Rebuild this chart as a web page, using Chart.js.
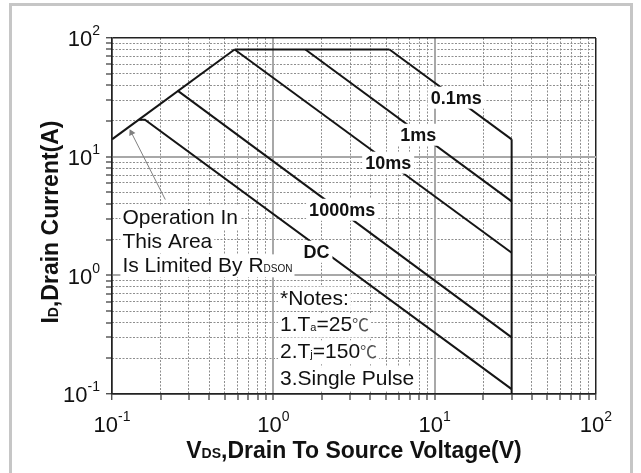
<!DOCTYPE html>
<html>
<head>
<meta charset="utf-8">
<script src="https://cdn.jsdelivr.net/npm/chart.js@4.4.1/dist/chart.umd.min.js"></script>
<style>
html,body{margin:0;padding:0;background:#fff;}
#wrap{position:relative;width:641px;height:473px;overflow:hidden;background:#fff;}
#c{position:absolute;left:0;top:0;}
#frame{position:absolute;left:9px;top:3px;width:624px;height:530px;box-sizing:border-box;border:3px solid #c6c6c6;pointer-events:none;}
</style>
</head>
<body>
<div id="wrap"><canvas id="c" width="641" height="473"></canvas><div id="frame"></div></div>
<script>
// ---------- data ----------
const decades = [0.1, 1, 10, 100];
const tickExponents = ['-1', '0', '1', '2'];

// R_DS(on) limit line
const rdsonV = [0.1, 0.575];
const rdsonI = [14, 80];
// package current limit
const limitV = [0.575, 5.25];
const limitI = [80, 80];
// pulse lines
const pulse01V = [5.25, 30];   const pulse01I = [80, 14];
const pulse1V = [1.58, 30];    const pulse1I = [80, 4.2];
const pulse10V = [0.575, 30];  const pulse10I = [80, 1.55];
const pulse1000V = [0.255, 30]; const pulse1000I = [36, 0.3];
const dcV = [0.147, 0.16, 30]; const dcI = [20.5, 20.5, 0.11];
// V_DS max limit
const vmaxV = [30, 30];        const vmaxI = [14, 0.1];
// annotation arrow (tail -> tip)
const arrowV = [0.214, 0.132]; const arrowI = [4.35, 15.9];

const curveLabels = ['0.1ms', '1ms', '10ms', '1000ms', 'DC'];
const curveLabelV = [13.6, 7.9, 5.15, 2.67, 1.85];
const curveLabelI = [31.4, 15.3, 8.9, 3.57, 1.58];

// ---------- helpers ----------
const FONT = "'Liberation Sans', Arial, Helvetica, sans-serif";
const CJK = "'Noto Sans CJK SC', 'DejaVu Sans', sans-serif";
const pts = (vs, is) => vs.map((v, k) => ({x: v, y: is[k]}));

const gridTicks = [];
decades.forEach((d, i) => {
  for (let m = 1; m <= 9; m++) {
    if (i === decades.length - 1 && m > 1) break;
    gridTicks.push(+(d * m).toPrecision(3));
  }
});
const isDecade = v => decades.some(d => Math.abs(v - d) < d * 1e-6);
const isEdge = v => Math.abs(v - decades[0]) < 1e-9 || Math.abs(v - decades[decades.length - 1]) < 1e-6;
const setTicks = s => { s.ticks = gridTicks.map(v => ({value: v, major: isDecade(v)})); };

function fontStr(s) { return (s.bold ? 'bold ' : '') + s.size + 'px ' + (s.family || FONT); }
function drawRich(ctx, x, y, segs, align, bg) {
  let w = 0;
  segs.forEach(s => { ctx.font = fontStr(s); s._w = ctx.measureText(s.t).width; w += s._w; });
  let cx = align === 'center' ? x - w / 2 : align === 'right' ? x - w : x;
  if (bg) {
    ctx.fillStyle = '#fff';
    ctx.fillRect(cx - 2, y - bg[0], w + 4, bg[0] + bg[1]);
  }
  ctx.textAlign = 'left';
  ctx.textBaseline = 'alphabetic';
  segs.forEach(s => {
    ctx.font = fontStr(s);
    ctx.fillStyle = s.color || '#111';
    ctx.fillText(s.t, cx, y + (s.dy || 0));
    cx += s._w;
  });
  return w;
}
const seg = (t, o) => Object.assign({t: t, size: 21, bold: false}, o || {});

const rdsonNote = [
  [seg('Operation In')],
  [seg('This Area')],
  [seg('Is Limited By R'), seg('DSON', {size: 10})]
];
const notes = [
  [seg('*Notes:')],
  [seg('1.T'), seg('a', {size: 11}), seg('=25'), seg('\u2103', {family: CJK, size: 17, color: '#555'})],
  [seg('2.T'), seg('j', {size: 11}), seg('=150'), seg('\u2103', {family: CJK, size: 17, color: '#555'})],
  [seg('3.Single Pulse')]
];

const textPlugin = {
  id: 'textPlugin',
  afterDatasetsDraw(chart) {
    const ctx = chart.ctx, xs = chart.scales.x, ys = chart.scales.y;
    ctx.save();
    // curve labels with white background
    curveLabels.forEach((t, i) => {
      const px = xs.getPixelForValue(curveLabelV[i]);
      const py = ys.getPixelForValue(curveLabelI[i]);
      ctx.font = 'bold 18px ' + FONT;
      const w = ctx.measureText(t).width;
      ctx.fillStyle = '#fff';
      ctx.fillRect(px - w / 2 - 3, py - 11, w + 6, 22);
      ctx.fillStyle = '#111';
      ctx.textAlign = 'center';
      ctx.textBaseline = 'alphabetic';
      ctx.fillText(t, px, py + 6.5);
    });
    // R_DS(on) annotation
    let ax = xs.getPixelForValue(0.116), ay = ys.getPixelForValue(2.71);
    rdsonNote.forEach((line, k) => drawRich(ctx, ax, ay + k * 24.2, line, 'left', [18, 5]));
    // notes
    let nx = xs.getPixelForValue(1.10), ny = ys.getPixelForValue(0.566);
    notes.forEach((line, k) => drawRich(ctx, nx, ny + k * 26.8, line, 'left', [18, 6]));
    ctx.restore();
  },
  afterDraw(chart) {
    const ctx = chart.ctx, xs = chart.scales.x, ys = chart.scales.y, ca = chart.chartArea;
    ctx.save();
    decades.forEach((d, i) => {
      const lab = [seg('10', {size: 22}), seg(tickExponents[i], {size: 14, dy: -11})];
      drawRich(ctx, xs.getPixelForValue(d), ca.bottom + 37.5, lab, 'center');
      const lab2 = [seg('10', {size: 22}), seg(tickExponents[i], {size: 14, dy: -11})];
      drawRich(ctx, ca.left - 12, ys.getPixelForValue(d) + 8.3, lab2, 'right');
    });
    // x title
    drawRich(ctx, (ca.left + ca.right) / 2, 458,
      [seg('V', {size: 23, bold: true}), seg('DS', {size: 14, bold: true}), seg(',Drain To Source Voltage(V)', {size: 23, bold: true})],
      'center');
    // y title
    ctx.translate(58, 222);
    ctx.rotate(-Math.PI / 2);
    drawRich(ctx, 0, 0,
      [seg('I', {size: 23, bold: true}), seg('D', {size: 14, bold: true}), seg(',Drain Current(A)', {size: 23, bold: true})],
      'center');
    ctx.restore();
  }
};

const lineDs = (v, i) => ({
  data: pts(v, i), borderColor: '#151515', borderWidth: 2, pointRadius: 0,
  showLine: true, tension: 0, fill: false, xAxisID: 'x', yAxisID: 'y'
});

const datasets = [
  lineDs(rdsonV, rdsonI),
  lineDs(limitV, limitI),
  lineDs(pulse01V, pulse01I),
  lineDs(pulse1V, pulse1I),
  lineDs(pulse10V, pulse10I),
  lineDs(pulse1000V, pulse1000I),
  lineDs(dcV, dcI),
  lineDs(vmaxV, vmaxI),
  {
    data: pts(arrowV, arrowI), borderColor: '#808080', borderWidth: 1, showLine: true,
    pointRadius: [0, 4], pointStyle: 'triangle', pointRotation: -27,
    pointBackgroundColor: '#808080', pointBorderColor: '#808080', pointBorderWidth: 0,
    xAxisID: 'x', yAxisID: 'y'
  }
];

const mainGrid = {
  color: c => isEdge(c.tick.value) ? '#222' : (isDecade(c.tick.value) ? '#a8a8a8' : 'rgba(0,0,0,0)'),
  lineWidth: c => isEdge(c.tick.value) ? 1.5 : 2,
  drawTicks: true, tickLength: 6, tickColor: '#333', tickWidth: 1.2
};
const minorGrid = {
  color: c => isDecade(c.tick.value) ? 'rgba(0,0,0,0)' : '#8e8e8e',
  lineWidth: 1, drawTicks: false
};

new Chart(document.getElementById('c'), {
  type: 'scatter',
  data: {datasets: datasets},
  options: {
    responsive: false, animation: false, devicePixelRatio: 1,
    layout: {padding: {left: 0, top: 38, right: 45, bottom: 0}},
    plugins: {legend: {display: false}, tooltip: {enabled: false}},
    scales: {
      xMinor: {
        type: 'logarithmic', axis: 'x', position: 'bottom', min: 0.1, max: 100,
        afterBuildTicks: setTicks, afterFit: s => { s.height = 0; },
        ticks: {display: false}, grid: minorGrid,
        border: {display: false, dash: [2, 1.5]}
      },
      yMinor: {
        type: 'logarithmic', axis: 'y', position: 'left', min: 0.1, max: 100,
        afterBuildTicks: setTicks, afterFit: s => { s.width = 0; },
        ticks: {display: false}, grid: minorGrid,
        border: {display: false, dash: [2, 1.5]}
      },
      x: {
        type: 'logarithmic', position: 'bottom', min: 0.1, max: 100,
        afterBuildTicks: setTicks, afterFit: s => { s.height = 79; },
        ticks: {display: false}, grid: mainGrid,
        border: {display: true, color: '#222', width: 1.5}
      },
      y: {
        type: 'logarithmic', position: 'left', min: 0.1, max: 100,
        afterBuildTicks: setTicks, afterFit: s => { s.width = 112; },
        ticks: {display: false}, grid: mainGrid,
        border: {display: true, color: '#222', width: 1.5}
      }
    }
  },
  plugins: [textPlugin]
});
</script>
</body>
</html>
